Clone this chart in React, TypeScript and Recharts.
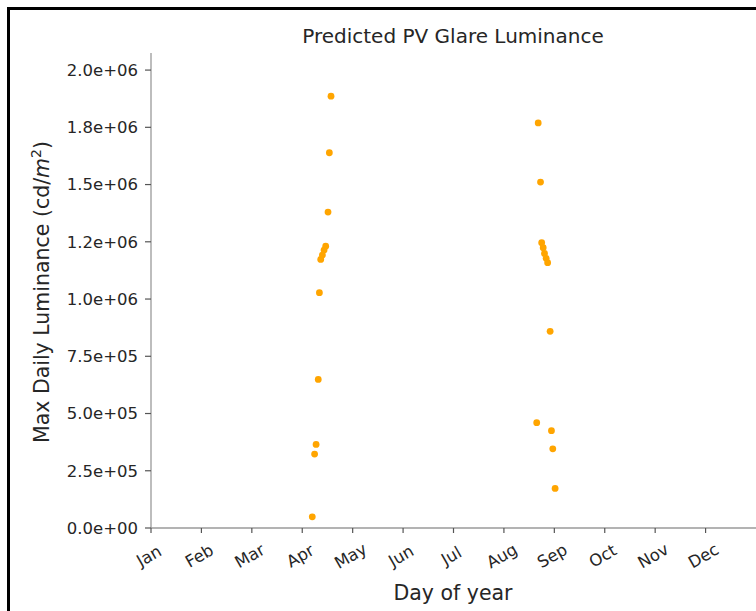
import React from 'react';
import { ScatterChart, Scatter, XAxis, YAxis } from 'recharts';

// ---- data ----
const months = ['Jan', 'Feb', 'Mar', 'Apr', 'May', 'Jun', 'Jul', 'Aug', 'Sep', 'Oct', 'Nov', 'Dec'];
const yTickValues = [0, 250000, 500000, 750000, 1000000, 1250000, 1500000, 1750000, 2000000];
const yTickLabels = ['0.0e+00', '2.5e+05', '5.0e+05', '7.5e+05', '1.0e+06', '1.2e+06', '1.5e+06', '1.8e+06', '2.0e+06'];

const aprilDays = [97.3, 98.7, 99.6, 100.9, 101.6, 102.4, 103.4, 104.4, 105.4, 106.8, 107.6, 108.6];
const aprilValues = [49000, 323000, 365000, 649000, 1028000, 1173000, 1192000, 1214000, 1231000, 1380000, 1639000, 1886000];
const septDays = [232.7, 233.6, 235.0, 235.7, 236.6, 237.4, 238.4, 239.3, 240.8, 241.6, 242.4, 243.8];
const septValues = [460000, 1769000, 1511000, 1246000, 1224000, 1199000, 1178000, 1159000, 859000, 425000, 346000, 173000];

const DAYS_IN_YEAR = 365;
const monthTicks = months.map((_, i) => (i * DAYS_IN_YEAR) / 12);

const data = [
  ...aprilDays.map((d, i) => ({ day: d, lum: aprilValues[i] })),
  ...septDays.map((d, i) => ({ day: d, lum: septValues[i] })),
];

const yMax = 1886000 * 1.1;

const FONT = '"DejaVu Sans", Verdana, sans-serif';
const TEXT = '#262626';

const MonthTick = (props: any) => {
  const { x, y, payload } = props;
  const idx = Math.round(payload.value / (DAYS_IN_YEAR / 12));
  const cx = x - 2;
  const cy = y + 21;
  return (
    <text
      x={cx}
      y={cy}
      textAnchor="middle"
      dominantBaseline="central"
      fontFamily={FONT}
      fontSize={16.5}
      fill={TEXT}
      transform={`rotate(-30, ${cx}, ${cy})`}
    >
      {months[idx]}
    </text>
  );
};

const Dot = (props: any) => {
  const { cx, cy } = props;
  return <circle cx={cx} cy={cy} r={3.4} fill="#FFA500" />;
};

export default function App() {
  return (
    <div style={{ position: 'absolute', left: 0, top: 0, width: 756, height: 611, background: '#fff', overflow: 'hidden' }}>
      <div
        style={{
          position: 'absolute',
          left: 7,
          top: 7,
          width: 760,
          height: 620,
          borderLeft: '3px solid #000',
          borderTop: '3px solid #000',
          boxSizing: 'border-box',
        }}
      />
      <div style={{ position: 'absolute', left: 0, top: 0 }}>
        <ScatterChart width={756} height={611} margin={{ top: 53, right: 0, bottom: 0, left: 0 }}>
          <XAxis
            type="number"
            dataKey="day"
            domain={[0, DAYS_IN_YEAR]}
            ticks={monthTicks}
            interval={0}
            height={83}
            tickSize={5}
            tickMargin={2}
            axisLine={{ stroke: '#9a9a9a', strokeWidth: 1.3 }}
            tickLine={{ stroke: '#555', strokeWidth: 1.2 }}
            tick={<MonthTick />}
            allowDataOverflow
          />
          <YAxis
            type="number"
            dataKey="lum"
            domain={[0, yMax]}
            ticks={yTickValues}
            interval={0}
            width={151}
            tickSize={6}
            tickMargin={7}
            axisLine={{ stroke: '#9a9a9a', strokeWidth: 1.3 }}
            tickLine={{ stroke: '#555', strokeWidth: 1.2 }}
            tick={{ fill: TEXT, fontSize: 16.5, fontFamily: FONT }}
            tickFormatter={(v: number) => yTickLabels[yTickValues.indexOf(v)] ?? ''}
            allowDataOverflow
          />
          <Scatter data={data} shape={<Dot />} isAnimationActive={false} />
        </ScatterChart>
      </div>
      <svg width={756} height={611} style={{ position: 'absolute', left: 0, top: 0, pointerEvents: 'none' }}>
        <text x={453} y={42.5} textAnchor="middle" fontFamily={FONT} fontSize={20} fill={TEXT}>
          Predicted PV Glare Luminance
        </text>
        <text x={453} y={600} textAnchor="middle" fontFamily={FONT} fontSize={20.5} fill={TEXT}>
          Day of year
        </text>
        <text
          x={49}
          y={292}
          textAnchor="middle"
          fontFamily={FONT}
          fontSize={20.5}
          fill={TEXT}
          transform="rotate(-90, 49, 292)"
        >
          Max Daily Luminance (cd/<tspan fontStyle="italic">m</tspan>
          <tspan fontSize={14} dy={-8}>2</tspan>
          <tspan dy={8}>)</tspan>
        </text>
      </svg>
    </div>
  );
}
